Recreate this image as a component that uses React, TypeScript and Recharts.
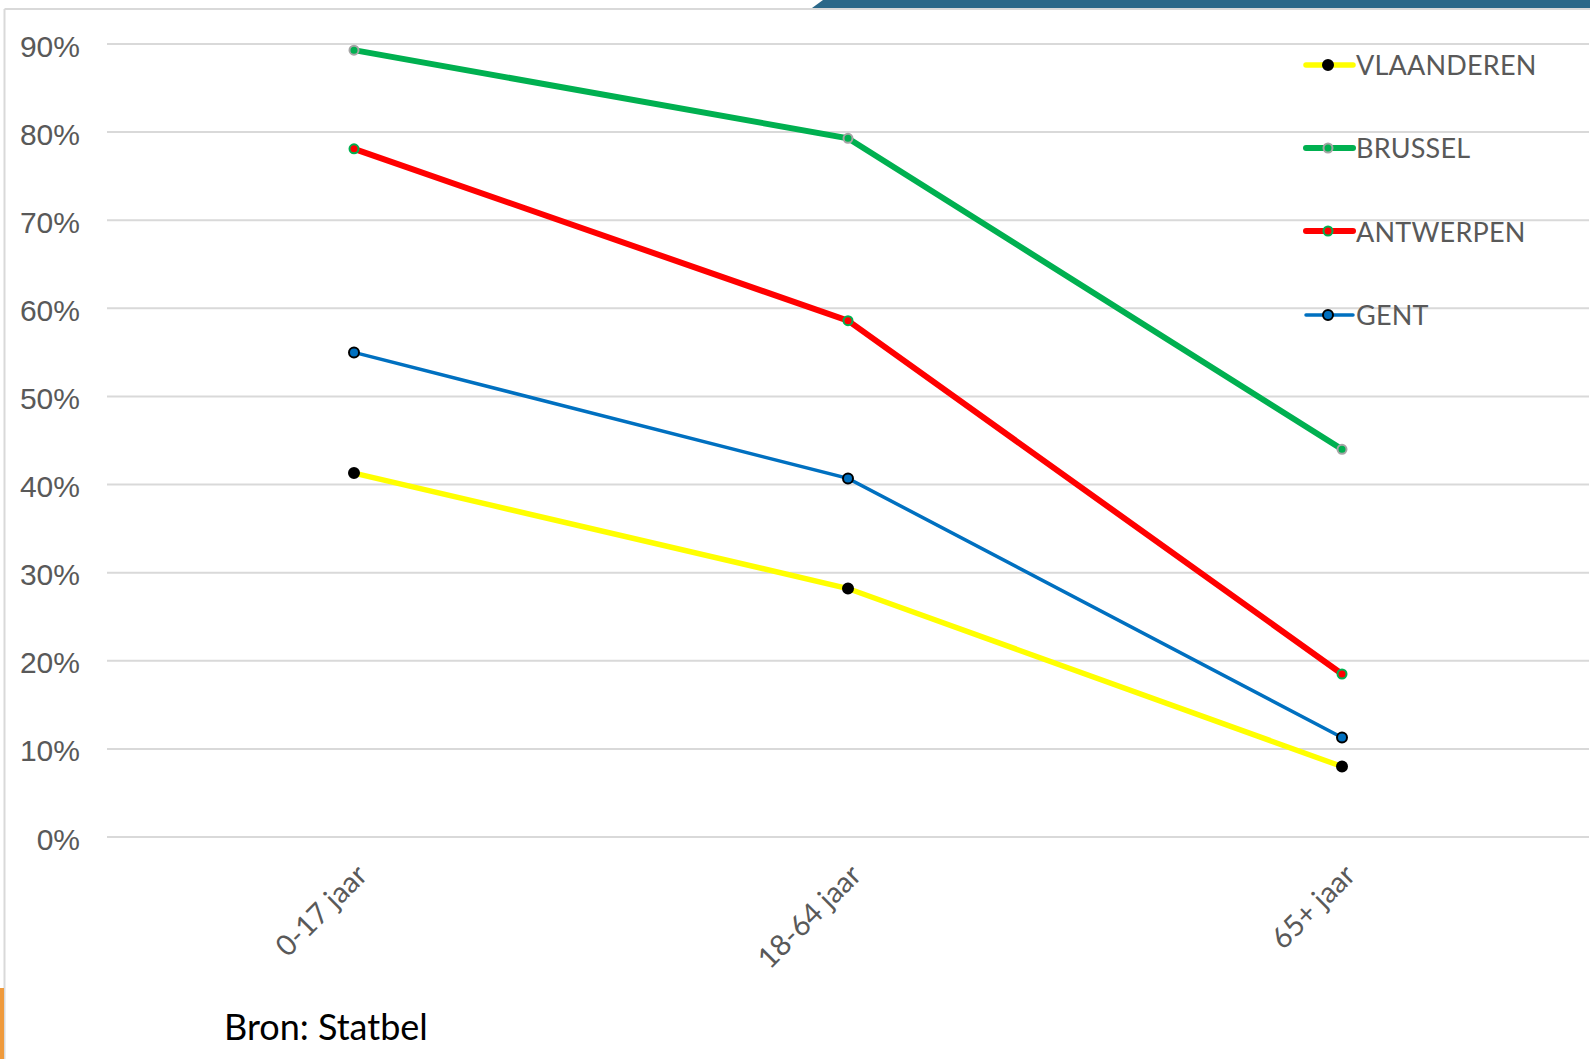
import React from 'react';
import { LineChart, Line, XAxis, YAxis, CartesianGrid, Legend } from 'recharts';

const categories = ['0-17 jaar', '18-64 jaar', '65+ jaar'];
const vlaanderen = [41.3, 28.2, 8.0];
const brussel = [89.3, 79.3, 44.0];
const antwerpen = [78.1, 58.6, 18.5];
const gent = [55.0, 40.7, 11.3];
const yTicks = [0, 10, 20, 30, 40, 50, 60, 70, 80, 90];

const series = [
  { key: 'VLAANDEREN', values: vlaanderen, stroke: '#ffff00', width: 5.5, dotR: 5, dotFill: '#000000', dotStroke: '#000000' },
  { key: 'BRUSSEL', values: brussel, stroke: '#00b050', width: 6, dotR: 4.5, dotFill: '#00b050', dotStroke: '#a5a5a5' },
  { key: 'ANTWERPEN', values: antwerpen, stroke: '#ff0000', width: 6, dotR: 4.5, dotFill: '#ff0000', dotStroke: '#00b050' },
  { key: 'GENT', values: gent, stroke: '#0070c0', width: 3.5, dotR: 5, dotFill: '#0070c0', dotStroke: '#000000' },
];

const data = categories.map((cat, i) => {
  const row: Record<string, string | number> = { cat };
  series.forEach(s => { row[s.key] = s.values[i]; });
  return row;
});

const YTick = ({ y, payload }: any) => (
  <text x={80} y={y + 2} textAnchor="end" dominantBaseline="central"
    fontFamily="'Liberation Sans', Arial, sans-serif" fontSize={30} fill="#595959">
    {payload.value}%
  </text>
);

const XTick = ({ x, y, payload }: any) => {
  const px = x + 15;
  const py = y + 40;
  return (
    <text x={px} y={py} transform={`rotate(-45 ${px} ${py})`} textAnchor="end"
      fontFamily="Lato, sans-serif" fontSize={29} fill="#595959">
      {payload.value}
    </text>
  );
};

const LegendBox = () => (
  <div>
    {series.map(s => (
      <div key={s.key} style={{ height: 83.3, display: 'flex', alignItems: 'center' }}>
        <svg width={56} height={24}>
          <line x1={6} y1={12} x2={53} y2={12} stroke={s.stroke} strokeWidth={s.width} strokeLinecap="round" />
          <circle cx={28} cy={12} r={s.dotR} fill={s.dotFill} stroke={s.dotStroke} strokeWidth={2} />
        </svg>
        <span style={{ fontFamily: 'Lato, sans-serif', fontSize: 27, color: '#595959', letterSpacing: 0.2 }}>{s.key}</span>
      </div>
    ))}
  </div>
);

const App: React.FC = () => {
  return (
    <div style={{ position: 'relative', width: 1590, height: 1059, background: '#ffffff', overflow: 'hidden' }}>
      <style>{'body{margin:0}'}</style>
      <svg width={1590} height={1059} style={{ position: 'absolute', left: 0, top: 0 }}>
        <polygon points="812,8 823,0 1590,0 1590,8" fill="#2b6889" />
        <line x1={4.5} y1={9} x2={1590} y2={9} stroke="#d9d9d9" strokeWidth={2} />
        <line x1={4.5} y1={9} x2={4.5} y2={1059} stroke="#d9d9d9" strokeWidth={2} />
        <rect x={0} y={988} width={4} height={71} fill="#ef9a3c" />
      </svg>
      <div style={{ position: 'absolute', left: 0, top: 0 }}>
        <LineChart width={1590} height={1059} data={data} margin={{ top: 44, right: 1, left: 0, bottom: 0 }}>
          <CartesianGrid horizontal vertical={false} stroke="#d9d9d9" strokeWidth={2} />
          <XAxis dataKey="cat" height={222} axisLine={false} tickLine={false} tickSize={0} tickMargin={0}
            tick={<XTick />} interval={0} padding={{ left: 247, right: 247 }} />
          <YAxis width={107} domain={[0, 90]} ticks={yTicks} axisLine={false} tickLine={false}
            tick={<YTick />} interval={0} />
          <Legend layout="vertical" align="center" verticalAlign="middle" content={<LegendBox />}
            wrapperStyle={{ top: 23, left: 1300, width: 290 }} />
          {series.map(s => (
            <Line key={s.key} dataKey={s.key} name={s.key} type="linear" stroke={s.stroke} strokeWidth={s.width}
              dot={{ r: s.dotR, fill: s.dotFill, stroke: s.dotStroke, strokeWidth: 2 }} activeDot={false}
              isAnimationActive={false} />
          ))}
        </LineChart>
      </div>
      <div style={{ position: 'absolute', left: 224, top: 1006, fontFamily: 'Lato, sans-serif', fontSize: 36, color: '#000000', lineHeight: '40px' }}>
        Bron: Statbel
      </div>
    </div>
  );
};

export default App;
